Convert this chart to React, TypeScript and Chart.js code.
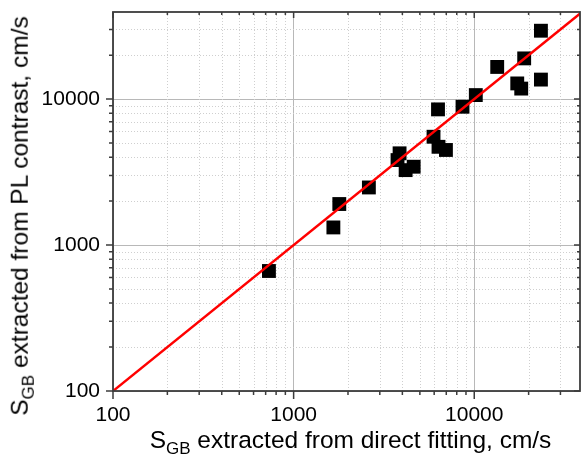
import React, { useEffect, useRef } from "react";
import { Chart, registerables } from "chart.js";

Chart.register(...registerables);

// Measured data: S_GB from direct fitting (x) vs from PL contrast (y), cm/s
const directFitting = [730, 1660, 1790, 2610, 3860, 3760, 4170, 4620, 5950, 6340, 6970, 6300, 8610, 10200, 13400, 17300, 18200, 18900, 23400, 23400];
const plContrast = [664, 1320, 1910, 2480, 4250, 3820, 3260, 3440, 5520, 4710, 4480, 8500, 8860, 10650, 16600, 12800, 11800, 19000, 13600, 29400];

// y = x reference line end points
const lineX = [100, 40000];
const lineY = [100, 40000];

const xMin = 100;
const xMax = 38500;
const yMin = 100;
const yMax = 39500;

const majorTicks = [100, 1000, 10000];
const minorSteps = [2, 3, 4, 5, 6, 7, 8, 9];

const FONT = "'Liberation Sans', Arial, sans-serif";

function buildTicks(max: number) {
  const vals: number[] = [];
  for (const m of majorTicks) {
    vals.push(m);
    for (const s of minorSteps) {
      const v = m * s;
      if (v < max) vals.push(v);
    }
  }
  return vals;
}

const isMajor = (v: number) => majorTicks.includes(v);

const minorGridPlugin = {
  id: "minorGrid",
  beforeDatasetsDraw(chart: any) {
    const { ctx, chartArea } = chart;
    const { left, right, top, bottom } = chartArea;
    const xs = chart.scales.x;
    const ys = chart.scales.y;
    ctx.save();
    ctx.strokeStyle = "#cfcfcf";
    ctx.lineWidth = 1;
    ctx.setLineDash([1, 2]);
    ctx.beginPath();
    for (const v of buildTicks(xMax)) {
      if (isMajor(v)) continue;
      const p = Math.round(xs.getPixelForValue(v)) + 0.5;
      ctx.moveTo(p, top);
      ctx.lineTo(p, bottom);
    }
    for (const v of buildTicks(yMax)) {
      if (isMajor(v)) continue;
      const p = Math.round(ys.getPixelForValue(v)) + 0.5;
      ctx.moveTo(left, p);
      ctx.lineTo(right, p);
    }
    ctx.stroke();
    ctx.restore();
  },
};

const framePlugin = {
  id: "frame",
  afterDraw(chart: any) {
    const { ctx, chartArea } = chart;
    const { left, right, top, bottom } = chartArea;
    const xs = chart.scales.x;
    const ys = chart.scales.y;
    ctx.save();
    ctx.strokeStyle = "#3c3c3c";
    ctx.lineWidth = 1.5;
    ctx.beginPath();
    for (const v of buildTicks(xMax)) {
      const p = xs.getPixelForValue(v);
      const maj = isMajor(v);
      ctx.moveTo(p, bottom);
      ctx.lineTo(p, bottom + (maj ? 8 : 4));
      ctx.moveTo(p, top);
      ctx.lineTo(p, top + (maj ? 6 : 3));
    }
    for (const v of buildTicks(yMax)) {
      const p = ys.getPixelForValue(v);
      const maj = isMajor(v);
      ctx.moveTo(left, p);
      ctx.lineTo(left - (maj ? 7 : 4), p);
      ctx.moveTo(right, p);
      ctx.lineTo(right - (maj ? 6 : 3), p);
    }
    ctx.stroke();
    ctx.lineWidth = 1.8;
    ctx.strokeRect(left, top, right - left, bottom - top);
    ctx.restore();
  },
};

function gridOpts() {
  return {
    drawTicks: false,
    lineWidth: 1,
    color: (c: any) => (c.tick && isMajor(c.tick.value) ? "#b8b8b8" : "rgba(0,0,0,0)"),
  };
}

export default function App() {
  const ref = useRef<HTMLCanvasElement>(null);
  useEffect(() => {
    document.body.style.margin = "0";
    const canvas = ref.current!;
    const chart = new Chart(canvas, {
      type: "scatter",
      data: {
        datasets: [
          {
            type: "line",
            data: lineX.map((x, i) => ({ x, y: lineY[i] })),
            borderColor: "#ff0000",
            borderWidth: 2.5,
            pointRadius: 0,
            order: 0,
          } as any,
          {
            data: directFitting.map((x, i) => ({ x, y: plContrast[i] })),
            backgroundColor: "#000",
            borderWidth: 0,
            pointStyle: "rect",
            pointRadius: 9.8,
            order: 1,
          },
        ],
      },
      options: {
        responsive: false,
        animation: false,
        events: [],
        layout: { autoPadding: false, padding: { top: 12, right: 1, left: 0, bottom: 0 } },
        plugins: { legend: { display: false }, tooltip: { enabled: false } },
        scales: {
          x: {
            type: "logarithmic",
            min: xMin,
            max: xMax,
            position: "bottom",
            afterBuildTicks: (s: any) => {
              s.ticks = buildTicks(xMax).map((v) => ({ value: v }));
            },
            afterFit: (s: any) => {
              s.height = 65;
              s.paddingLeft = 0;
              s.paddingRight = 0;
            },
            border: { display: false },
            grid: gridOpts() as any,
            ticks: {
              autoSkip: false,
              maxRotation: 0,
              padding: 12,
              color: "#000",
              font: { family: FONT, size: 21 },
              callback: (v: any) => (isMajor(Number(v)) ? String(v) : ""),
            },
          },
          y: {
            type: "logarithmic",
            min: yMin,
            max: yMax,
            afterBuildTicks: (s: any) => {
              s.ticks = buildTicks(yMax).map((v) => ({ value: v }));
            },
            afterFit: (s: any) => {
              s.width = 113;
              s.paddingTop = 0;
              s.paddingBottom = 0;
            },
            border: { display: false },
            grid: gridOpts() as any,
            ticks: {
              autoSkip: false,
              padding: 13,
              color: "#000",
              font: { family: FONT, size: 21 },
              callback: (v: any) => (isMajor(Number(v)) ? String(v) : ""),
            },
          },
        },
      },
      plugins: [minorGridPlugin, framePlugin],
    });
    return () => chart.destroy();
  }, []);

  const titleStyle: React.CSSProperties = {
    position: "absolute",
    fontFamily: FONT,
    fontSize: "24.5px",
    lineHeight: 1,
    whiteSpace: "nowrap",
    color: "#000",
  };
  const subStyle: React.CSSProperties = { fontSize: "17px", position: "relative", top: "6px" };

  return (
    <div style={{ position: "relative", width: 581, height: 456, overflow: "hidden" }}>
      <canvas ref={ref} width={581} height={456} style={{ width: 581, height: 456, display: "block" }} />
      <div style={{ ...titleStyle, left: 350.5, top: 439.5, transform: "translate(-50%, -50%)" }}>
        S<span style={subStyle}>GB</span> extracted from direct fitting, cm/s
      </div>
      <div style={{ ...titleStyle, left: 19.5, top: 215.5, transform: "translate(-50%, -50%) rotate(-90deg)" }}>
        S<span style={subStyle}>GB</span> extracted from PL contrast, cm/s
      </div>
    </div>
  );
}
